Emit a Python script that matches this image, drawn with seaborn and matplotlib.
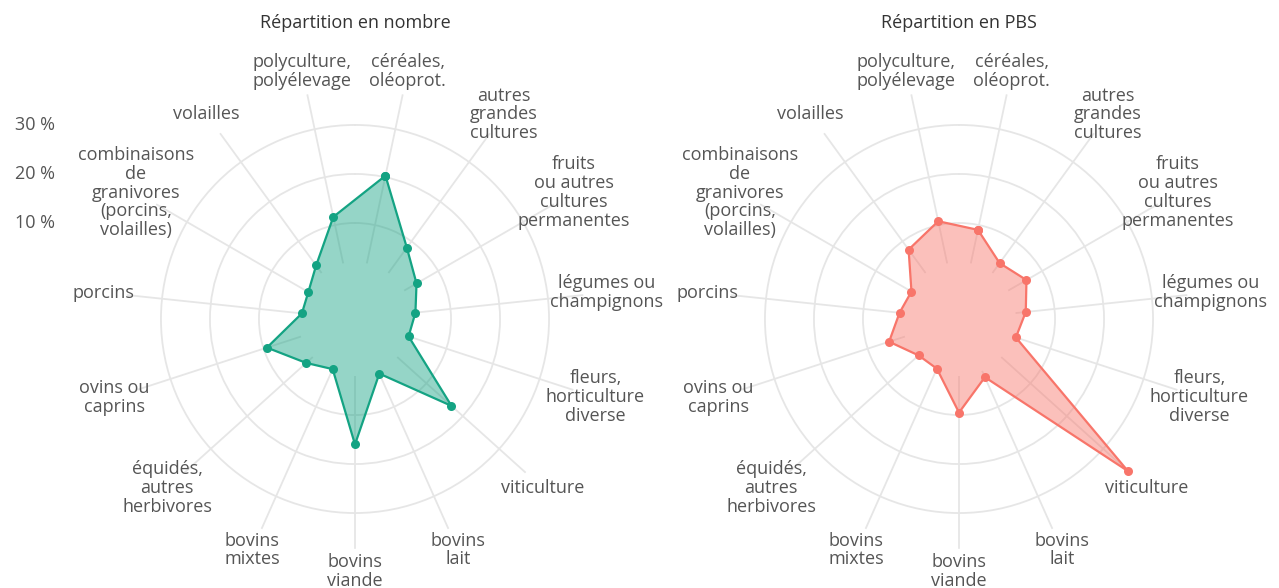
"""two radar charts: distribution of farms by specialisation, in number and in PBS"""
import matplotlib.pyplot as plt
import numpy as np
import pandas as pd
import seaborn as sns

categories = [
    "céréales,\noléoprot.",
    "autres\ngrandes\ncultures",
    "fruits\nou autres\ncultures\npermanentes",
    "légumes ou\nchampignons",
    "fleurs,\nhorticulture\ndiverse",
    "viticulture",
    "bovins\nlait",
    "bovins\nviande",
    "bovins\nmixtes",
    "équidés,\nautres\nherbivores",
    "ovins ou\ncaprins",
    "porcins",
    "combinaisons\nde\ngranivores\n(porcins,\nvolailles)",
    "volailles",
    "polyculture,\npolyélevage",
]
nombre = [20.3, 8.4, 4.9, 2.8, 1.9, 16.9, 2.6, 16.0, 1.6, 3.8, 9.3, 1.3, 1.4, 3.9, 11.7]
pbs = [9.0, 4.5, 6.3, 4.1, 2.6, 36.8, 3.4, 9.5, 1.5, 1.5, 5.4, 2.6, 1.6, 7.9, 10.8]
ring_ticks = [10, 20, 30]
ring_labels = ["10 %", "20 %", "30 %"]
titles = ["Répartition en nombre", "Répartition en PBS"]
colors = ["#14a383", "#f8756a"]

sns.set_theme(style="white")
plt.rcParams["font.family"] = ["Open Sans", "DejaVu Sans"]

W, H = 1279, 588
R_IN = -9.6      # radial value sitting at the centre (hole)
R_MAX = 37.3
PX = 4.9         # pixels per percent
radius_px = (R_MAX - R_IN) * PX
centres = [(355, 319), (959, 319)]
FS = 13

n = len(categories)
theta = np.deg2rad(12 + 24 * np.arange(n))
theta_closed = np.append(theta, theta[0] + 2 * np.pi)

f = plt.figure(figsize=(W / 100, H / 100), dpi=100)

for k, (values, title, color, (cx, cy)) in enumerate(
    zip([nombre, pbs], titles, colors, centres)
):
    ax = f.add_axes(
        [
            (cx - radius_px) / W,
            (H - cy - radius_px) / H,
            2 * radius_px / W,
            2 * radius_px / H,
        ],
        projection="polar",
    )
    ax.set_theta_zero_location("N")
    ax.set_theta_direction(-1)
    ax.set_ylim(R_IN, R_MAX)
    ax.set_yticks(ring_ticks)
    ax.set_yticklabels([])
    ax.set_xticks([])
    ax.spines["polar"].set_visible(False)
    ax.grid(axis="y", color="#e6e6e6", lw=1.3)
    ax.vlines(theta, 2, R_MAX, color="#e6e6e6", lw=1.3, zorder=0.5)

    df = pd.DataFrame({"angle": theta_closed, "value": values + values[:1]})
    ax.fill(df["angle"], df["value"], color=color, alpha=0.45, lw=0, zorder=2)
    sns.lineplot(
        data=df,
        x="angle",
        y="value",
        sort=False,
        estimator=None,
        color=color,
        lw=1.6,
        marker="o",
        markersize=6.5,
        markeredgewidth=0,
        clip_on=False,
        ax=ax,
        zorder=3,
    )
    ax.set_xlabel("")
    ax.set_ylabel("")

    for t, label in zip(theta, categories):
        ax.text(
            t, 42, label, ha="center", va="center", fontsize=FS,
            color="#555555", linespacing=1.06,
        )

    f.text(cx / W, 1 - 23 / H, title, ha="center", va="center",
           fontsize=FS, color="#333333")

    if k == 0:
        for v, lab in zip(ring_ticks, ring_labels):
            ax.annotate(
                lab, xy=(0, v), xytext=(-320, 0), textcoords="offset pixels",
                ha="center", va="center", fontsize=FS, color="#555555",
            )

f.savefig("out.png", dpi=100)
